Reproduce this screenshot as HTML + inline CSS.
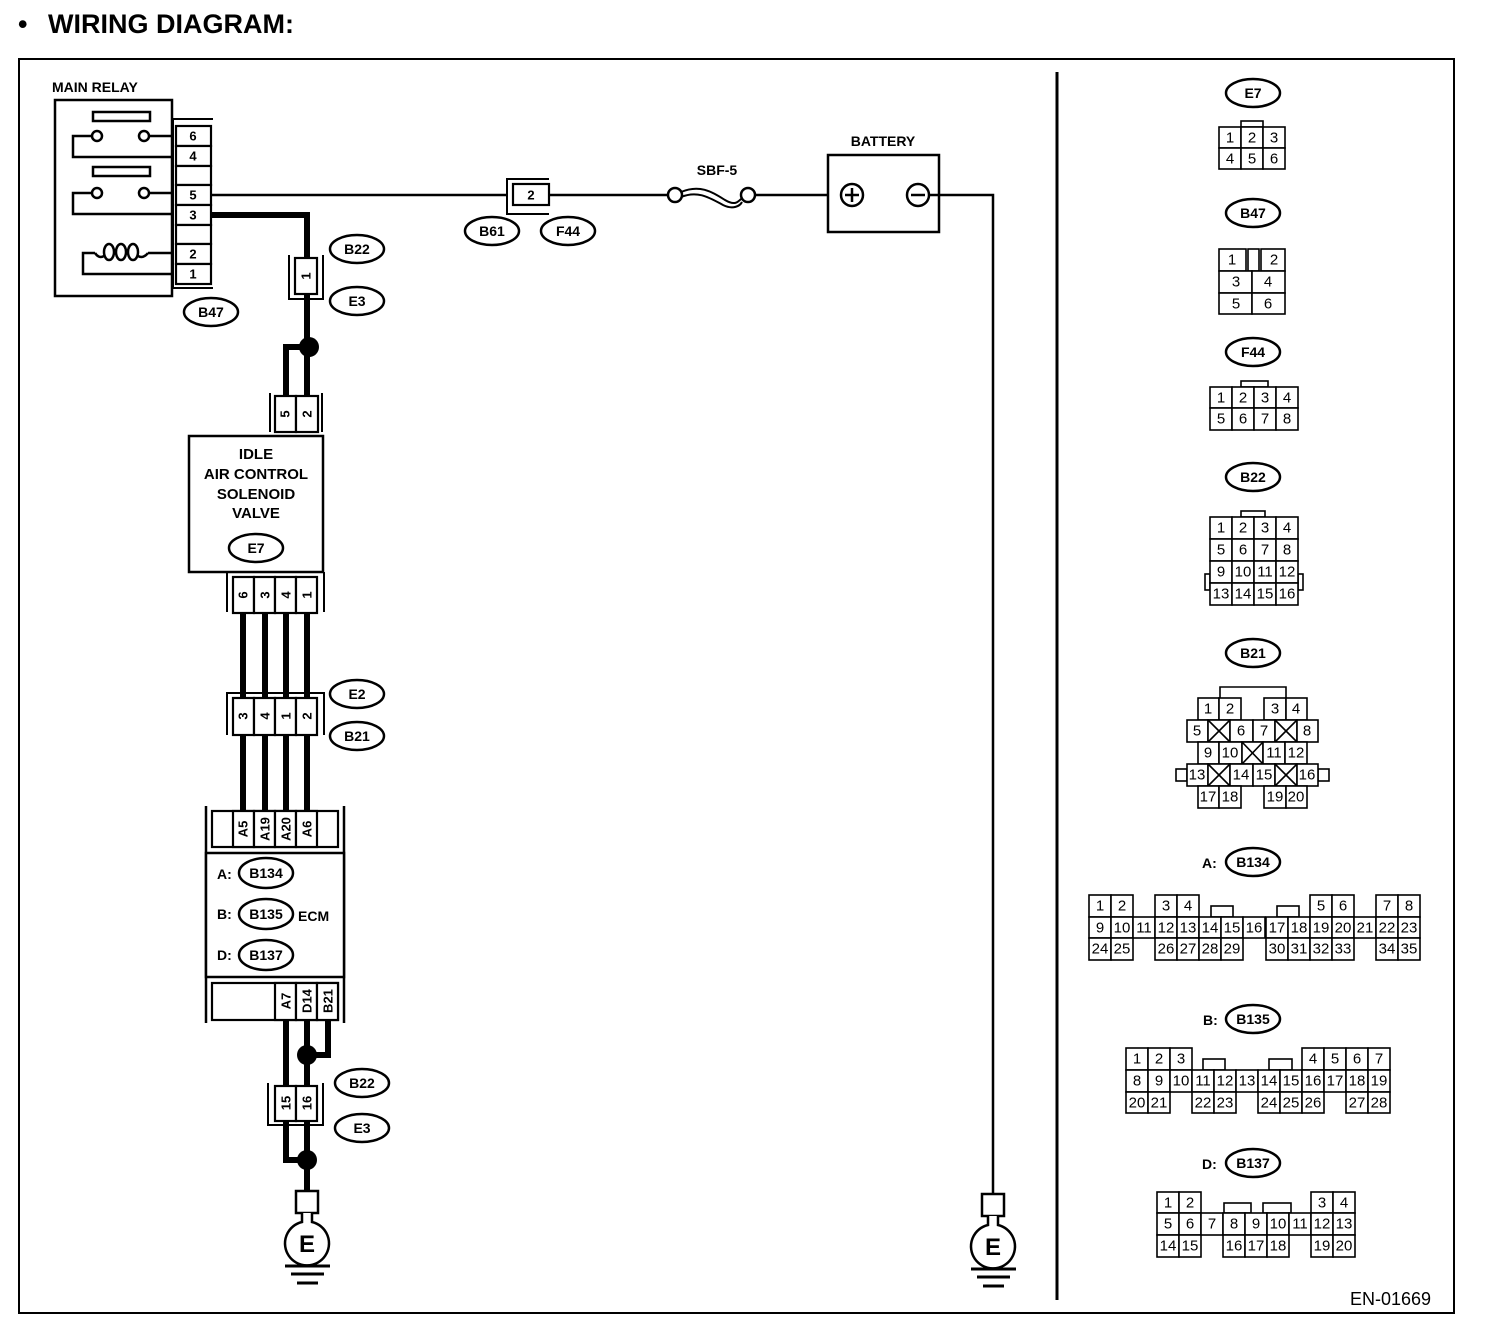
<!DOCTYPE html>
<html><head><meta charset="utf-8">
<style>
html,body{margin:0;padding:0;background:#fff;}
svg{display:block;}
.t{font-family:"Liberation Sans",sans-serif;}
.c rect{fill:#fff;stroke:#000;stroke-width:1.6;}
.c text{font-family:"Liberation Sans",sans-serif;font-size:15px;text-anchor:middle;dominant-baseline:central;}
.o ellipse{fill:#fff;stroke:#000;stroke-width:2.5;}
.o text{font-family:"Liberation Sans",sans-serif;font-weight:bold;font-size:14px;text-anchor:middle;dominant-baseline:central;}
.p rect{fill:#fff;stroke:#000;stroke-width:2.2;}
.p text{font-family:"Liberation Sans",sans-serif;font-weight:bold;font-size:13px;text-anchor:middle;dominant-baseline:central;}
.b{font-family:"Liberation Sans",sans-serif;font-weight:bold;}
</style></head><body>
<svg width="1504" height="1332" viewBox="0 0 1504 1332" xmlns="http://www.w3.org/2000/svg">
<text x="18" y="33" class="b" font-size="27">•</text>
<text x="48" y="33" class="b" font-size="27">WIRING DIAGRAM:</text>
<rect x="19" y="59" width="1435" height="1254" fill="none" stroke="#000" stroke-width="2"/>
<line x1="1057" y1="72" x2="1057" y2="1300" stroke="#000" stroke-width="3"/>

<!-- MAIN RELAY -->
<text x="52" y="92" class="b" font-size="14">MAIN RELAY</text>
<rect x="55" y="100" width="117" height="196" fill="none" stroke="#000" stroke-width="2.5"/>
<g fill="none" stroke="#000" stroke-width="2.5">
<rect x="93" y="112" width="57" height="9"/>
<rect x="93" y="167" width="57" height="9"/>
<polyline points="92,136 73,136 73,157 173,157"/>
<line x1="149" y1="136" x2="173" y2="136"/>
<polyline points="92,193 73,193 73,214 173,214"/>
<line x1="149" y1="193" x2="173" y2="193"/>
<polyline points="95,253 83,253 83,274 173,274"/>
<line x1="148" y1="253" x2="173" y2="253"/>
<path d="M95,253 Q99,259 104,256"/>
<ellipse cx="109" cy="252" rx="5" ry="8"/>
<ellipse cx="121" cy="252" rx="5" ry="8"/>
<ellipse cx="133" cy="252" rx="5" ry="8"/>
<path d="M138,256 Q143,259 148,253"/>
</g>
<circle cx="97" cy="136" r="5" fill="#fff" stroke="#000" stroke-width="2.5"/>
<circle cx="144" cy="136" r="5" fill="#fff" stroke="#000" stroke-width="2.5"/>
<circle cx="97" cy="193" r="5" fill="#fff" stroke="#000" stroke-width="2.5"/>
<circle cx="144" cy="193" r="5" fill="#fff" stroke="#000" stroke-width="2.5"/>
<g stroke="#000" stroke-width="2" fill="none">
<polyline points="213,119 173,119 173,288 213,288"/>
</g>
<g class="p">
<rect x="176" y="126" width="35" height="20"/><text x="193" y="136">6</text>
<rect x="176" y="146" width="35" height="20"/><text x="193" y="156">4</text>
<rect x="176" y="166" width="35" height="19"/>
<rect x="176" y="185" width="35" height="20"/><text x="193" y="195">5</text>
<rect x="176" y="205" width="35" height="20"/><text x="193" y="215">3</text>
<rect x="176" y="225" width="35" height="19"/>
<rect x="176" y="244" width="35" height="20"/><text x="193" y="254">2</text>
<rect x="176" y="264" width="35" height="20"/><text x="193" y="274">1</text>
</g>

<!-- wires top -->
<line x1="211" y1="195" x2="507" y2="195" stroke="#000" stroke-width="2.5"/>
<polyline points="211,215 307,215 307,258" fill="none" stroke="#000" stroke-width="6"/>
<line x1="307" y1="294" x2="307" y2="398" stroke="#000" stroke-width="6"/>
<polyline points="307,347 286,347 286,398" fill="none" stroke="#000" stroke-width="6"/>
<circle cx="309" cy="347" r="10" fill="#000"/>
<polyline points="289,255 289,299 323,299 323,255" fill="none" stroke="#000" stroke-width="2"/>
<g class="p"><rect x="295" y="258" width="22" height="36"/><text x="306" y="276" transform="rotate(-90 306 276)">1</text></g>
<g class="o">
<ellipse cx="357" cy="249" rx="27" ry="14"/><text x="357" y="249">B22</text>
<ellipse cx="357" cy="301" rx="27" ry="14"/><text x="357" y="301">E3</text>
<ellipse cx="211" cy="312" rx="27" ry="14"/><text x="211" y="312">B47</text>
</g>
<polyline points="270,393 270,432" fill="none" stroke="#000" stroke-width="2"/>
<polyline points="322,393 322,432" fill="none" stroke="#000" stroke-width="2"/>
<g class="p">
<rect x="275" y="396" width="21" height="36"/><text x="285" y="414" transform="rotate(-90 285 414)">5</text>
<rect x="296" y="396" width="22" height="36"/><text x="307" y="414" transform="rotate(-90 307 414)">2</text>
</g>
<!-- IACV -->
<rect x="189" y="436" width="134" height="136" fill="#fff" stroke="#000" stroke-width="2.5"/>
<g class="b" font-size="15" text-anchor="middle">
<text x="256" y="459">IDLE</text>
<text x="256" y="479">AIR CONTROL</text>
<text x="256" y="499">SOLENOID</text>
<text x="256" y="518">VALVE</text>
</g>
<g class="o"><ellipse cx="256" cy="548" rx="27" ry="14"/><text x="256" y="548">E7</text></g>
<line x1="227" y1="572" x2="227" y2="612" stroke="#000" stroke-width="2"/>
<line x1="324" y1="572" x2="324" y2="612" stroke="#000" stroke-width="2"/>
<g class="p">
<rect x="233" y="577" width="21" height="36"/><text x="243" y="595" transform="rotate(-90 243 595)">6</text>
<rect x="254" y="577" width="21" height="36"/><text x="265" y="595" transform="rotate(-90 265 595)">3</text>
<rect x="275" y="577" width="21" height="36"/><text x="286" y="595" transform="rotate(-90 286 595)">4</text>
<rect x="296" y="577" width="21" height="36"/><text x="307" y="595" transform="rotate(-90 307 595)">1</text>
</g>
<g stroke="#000" stroke-width="6">
<line x1="243" y1="613" x2="243" y2="698"/><line x1="265" y1="613" x2="265" y2="698"/>
<line x1="286" y1="613" x2="286" y2="698"/><line x1="307" y1="613" x2="307" y2="698"/>
<line x1="243" y1="735" x2="243" y2="812"/><line x1="265" y1="735" x2="265" y2="812"/>
<line x1="286" y1="735" x2="286" y2="812"/><line x1="307" y1="735" x2="307" y2="812"/>
</g>
<polyline points="227,735 227,693 324,693 324,735" fill="none" stroke="#000" stroke-width="2"/>
<g class="p">
<rect x="233" y="698" width="21" height="37"/><text x="243" y="716" transform="rotate(-90 243 716)">3</text>
<rect x="254" y="698" width="21" height="37"/><text x="265" y="716" transform="rotate(-90 265 716)">4</text>
<rect x="275" y="698" width="21" height="37"/><text x="286" y="716" transform="rotate(-90 286 716)">1</text>
<rect x="296" y="698" width="21" height="37"/><text x="307" y="716" transform="rotate(-90 307 716)">2</text>
</g>
<g class="o">
<ellipse cx="357" cy="694" rx="27" ry="14"/><text x="357" y="694">E2</text>
<ellipse cx="357" cy="736" rx="27" ry="14"/><text x="357" y="736">B21</text>
</g>
<!-- ECM -->
<line x1="206" y1="806" x2="206" y2="1023" stroke="#000" stroke-width="2.5"/>
<line x1="344" y1="806" x2="344" y2="1023" stroke="#000" stroke-width="2.5"/>
<rect x="206" y="853" width="138" height="124" fill="#fff" stroke="#000" stroke-width="2.5"/>
<g class="p">
<rect x="212" y="811" width="126" height="36"/>
<rect x="233" y="811" width="21" height="36"/><text x="243" y="829" transform="rotate(-90 243 829)">A5</text>
<rect x="254" y="811" width="21" height="36"/><text x="265" y="829" transform="rotate(-90 265 829)">A19</text>
<rect x="275" y="811" width="21" height="36"/><text x="286" y="829" transform="rotate(-90 286 829)">A20</text>
<rect x="296" y="811" width="21" height="36"/><text x="307" y="829" transform="rotate(-90 307 829)">A6</text>
<rect x="212" y="983" width="126" height="37"/>
<rect x="275" y="983" width="21" height="37"/><text x="286" y="1001" transform="rotate(-90 286 1001)">A7</text>
<rect x="296" y="983" width="21" height="37"/><text x="307" y="1001" transform="rotate(-90 307 1001)">D14</text>
<rect x="317" y="983" width="21" height="37"/><text x="328" y="1001" transform="rotate(-90 328 1001)">B21</text>
</g>
<g class="b" font-size="14">
<text x="217" y="879">A:</text><text x="217" y="919">B:</text><text x="217" y="960">D:</text>
<text x="298" y="921">ECM</text>
</g>
<g class="o">
<ellipse cx="266" cy="873" rx="27" ry="15"/><text x="266" y="873">B134</text>
<ellipse cx="266" cy="914" rx="27" ry="15"/><text x="266" y="914">B135</text>
<ellipse cx="266" cy="955" rx="27" ry="15"/><text x="266" y="955">B137</text>
</g>
<g stroke="#000" stroke-width="6" fill="none">
<line x1="286" y1="1020" x2="286" y2="1086"/>
<line x1="307" y1="1020" x2="307" y2="1086"/>
<polyline points="328,1020 328,1055 307,1055"/>
<polyline points="286,1120 286,1160 307,1160"/>
<line x1="307" y1="1120" x2="307" y2="1191"/>
</g>
<circle cx="307" cy="1055" r="10" fill="#000"/>
<circle cx="307" cy="1160" r="10" fill="#000"/>
<polyline points="268,1083 268,1125 323,1125 323,1083" fill="none" stroke="#000" stroke-width="2"/>
<g class="p">
<rect x="275" y="1086" width="21" height="35"/><text x="286" y="1103" transform="rotate(-90 286 1103)">15</text>
<rect x="296" y="1086" width="21" height="35"/><text x="307" y="1103" transform="rotate(-90 307 1103)">16</text>
</g>
<g class="o">
<ellipse cx="362" cy="1083" rx="27" ry="14"/><text x="362" y="1083">B22</text>
<ellipse cx="362" cy="1128" rx="27" ry="14"/><text x="362" y="1128">E3</text>
</g>
<rect x="296" y="1191" width="22" height="22" fill="#fff" stroke="#000" stroke-width="2.5"/>
<path d="M302,1213 L302,1222 A22,22 0 1 0 312,1222 L312,1213" fill="#fff" stroke="#000" stroke-width="2.5"/>
<text x="307" y="1252" class="b" font-size="24" text-anchor="middle">E</text>
<g stroke="#000" stroke-width="3">
<line x1="285" y1="1266" x2="330" y2="1266"/><line x1="291" y1="1274" x2="324" y2="1274"/><line x1="297" y1="1283" x2="318" y2="1283"/>
</g>

<polyline points="549,179 507,179 507,214 549,214" fill="none" stroke="#000" stroke-width="2"/>
<g class="p"><rect x="513" y="184" width="36" height="21"/><text x="531" y="195">2</text></g>
<line x1="549" y1="195" x2="668" y2="195" stroke="#000" stroke-width="2.5"/>
<path d="M681,192 C700,184 712,192 725,200 C735,206 738,202 742,198" fill="none" stroke="#000" stroke-width="2"/>
<path d="M681,197 C698,190 710,198 723,205 C733,210 740,206 742,202" fill="none" stroke="#000" stroke-width="2"/>
<circle cx="675" cy="195" r="7" fill="#fff" stroke="#000" stroke-width="2.5"/>
<circle cx="748" cy="195" r="7" fill="#fff" stroke="#000" stroke-width="2.5"/>
<line x1="755" y1="195" x2="840" y2="195" stroke="#000" stroke-width="2.5"/>
<text x="717" y="175" class="b" font-size="14" text-anchor="middle">SBF-5</text>
<g class="o">
<ellipse cx="492" cy="231" rx="27" ry="14"/><text x="492" y="231">B61</text>
<ellipse cx="568" cy="231" rx="27" ry="14"/><text x="568" y="231">F44</text>
</g>
<text x="883" y="146" class="b" font-size="14" text-anchor="middle">BATTERY</text>
<rect x="828" y="155" width="111" height="77" fill="#fff" stroke="#000" stroke-width="2.5"/>
<circle cx="852" cy="195" r="11" fill="#fff" stroke="#000" stroke-width="2.5"/>
<line x1="845" y1="195" x2="859" y2="195" stroke="#000" stroke-width="2.5"/><line x1="852" y1="188" x2="852" y2="202" stroke="#000" stroke-width="2.5"/>
<circle cx="918" cy="195" r="11" fill="#fff" stroke="#000" stroke-width="2.5"/>
<line x1="911" y1="195" x2="925" y2="195" stroke="#000" stroke-width="2.5"/>
<polyline points="929,195 993,195 993,1194" fill="none" stroke="#000" stroke-width="2.5"/>
<rect x="982" y="1194" width="22" height="22" fill="#fff" stroke="#000" stroke-width="2.5"/>
<path d="M988,1216 L988,1225 A22,22 0 1 0 998,1225 L998,1216" fill="#fff" stroke="#000" stroke-width="2.5"/>
<text x="993" y="1255" class="b" font-size="24" text-anchor="middle">E</text>
<g stroke="#000" stroke-width="3">
<line x1="971" y1="1269" x2="1016" y2="1269"/><line x1="977" y1="1277" x2="1010" y2="1277"/><line x1="983" y1="1286" x2="1004" y2="1286"/>
</g>
<text x="1350" y="1305" class="t" font-size="18">EN-01669</text>

<g class="o">
<ellipse cx="1253" cy="93" rx="27" ry="14"/><text x="1253" y="93">E7</text>
<ellipse cx="1253" cy="213" rx="27" ry="14"/><text x="1253" y="213">B47</text>
<ellipse cx="1253" cy="352" rx="27" ry="14"/><text x="1253" y="352">F44</text>
<ellipse cx="1253" cy="477" rx="27" ry="14"/><text x="1253" y="477">B22</text>
<ellipse cx="1253" cy="653" rx="27" ry="14"/><text x="1253" y="653">B21</text>
<ellipse cx="1253" cy="862" rx="27" ry="14"/><text x="1253" y="862">B134</text>
<ellipse cx="1253" cy="1019" rx="27" ry="14"/><text x="1253" y="1019">B135</text>
<ellipse cx="1253" cy="1163" rx="27" ry="14"/><text x="1253" y="1163">B137</text>
</g>
<g class="b" font-size="14"><text x="1202" y="868">A:</text><text x="1203" y="1025">B:</text><text x="1202" y="1169">D:</text></g>

<g class="c">
<rect x="1241" y="121" width="22" height="6"/>
<rect x="1219" y="127" width="22" height="21"/><text x="1230" y="138">1</text>
<rect x="1241" y="127" width="22" height="21"/><text x="1252" y="138">2</text>
<rect x="1263" y="127" width="22" height="21"/><text x="1274" y="138">3</text>
<rect x="1219" y="148" width="22" height="21"/><text x="1230" y="159">4</text>
<rect x="1241" y="148" width="22" height="21"/><text x="1252" y="159">5</text>
<rect x="1263" y="148" width="22" height="21"/><text x="1274" y="159">6</text>
<rect x="1219" y="249" width="27" height="22"/><text x="1232" y="260">1</text>
<rect x="1248" y="249" width="11" height="22"/>
<rect x="1261" y="249" width="24" height="22"/><text x="1274" y="260">2</text>
<rect x="1219" y="271" width="33" height="22"/><text x="1236" y="282">3</text>
<rect x="1252" y="271" width="33" height="22"/><text x="1268" y="282">4</text>
<rect x="1219" y="293" width="33" height="21"/><text x="1236" y="304">5</text>
<rect x="1252" y="293" width="33" height="21"/><text x="1268" y="304">6</text>
<rect x="1241" y="381" width="27" height="6"/>
<rect x="1210" y="387" width="22" height="21"/><text x="1221" y="398">1</text>
<rect x="1232" y="387" width="22" height="21"/><text x="1243" y="398">2</text>
<rect x="1254" y="387" width="22" height="21"/><text x="1265" y="398">3</text>
<rect x="1276" y="387" width="22" height="21"/><text x="1287" y="398">4</text>
<rect x="1210" y="408" width="22" height="22"/><text x="1221" y="419">5</text>
<rect x="1232" y="408" width="22" height="22"/><text x="1243" y="419">6</text>
<rect x="1254" y="408" width="22" height="22"/><text x="1265" y="419">7</text>
<rect x="1276" y="408" width="22" height="22"/><text x="1287" y="419">8</text>
<rect x="1241" y="511" width="24" height="6"/>
<rect x="1205" y="574" width="5" height="16"/><rect x="1298" y="574" width="5" height="16"/>
<rect x="1210" y="517" width="22" height="22"/><text x="1221" y="528">1</text>
<rect x="1232" y="517" width="22" height="22"/><text x="1243" y="528">2</text>
<rect x="1254" y="517" width="22" height="22"/><text x="1265" y="528">3</text>
<rect x="1276" y="517" width="22" height="22"/><text x="1287" y="528">4</text>
<rect x="1210" y="539" width="22" height="22"/><text x="1221" y="550">5</text>
<rect x="1232" y="539" width="22" height="22"/><text x="1243" y="550">6</text>
<rect x="1254" y="539" width="22" height="22"/><text x="1265" y="550">7</text>
<rect x="1276" y="539" width="22" height="22"/><text x="1287" y="550">8</text>
<rect x="1210" y="561" width="22" height="22"/><text x="1221" y="572">9</text>
<rect x="1232" y="561" width="22" height="22"/><text x="1243" y="572">10</text>
<rect x="1254" y="561" width="22" height="22"/><text x="1265" y="572">11</text>
<rect x="1276" y="561" width="22" height="22"/><text x="1287" y="572">12</text>
<rect x="1210" y="583" width="22" height="22"/><text x="1221" y="594">13</text>
<rect x="1232" y="583" width="22" height="22"/><text x="1243" y="594">14</text>
<rect x="1254" y="583" width="22" height="22"/><text x="1265" y="594">15</text>
<rect x="1276" y="583" width="22" height="22"/><text x="1287" y="594">16</text>
</g>
<polyline points="1220,698 1220,687 1286,687 1286,698" fill="none" stroke="#000" stroke-width="1.6"/>
<g class="c">
<rect x="1176" y="769" width="11" height="12"/><rect x="1318" y="769" width="11" height="12"/>
<rect x="1198" y="698" width="21" height="22"/><text x="1208" y="709">1</text>
<rect x="1219" y="698" width="22" height="22"/><text x="1230" y="709">2</text>
<rect x="1264" y="698" width="22" height="22"/><text x="1275" y="709">3</text>
<rect x="1286" y="698" width="21" height="22"/><text x="1296" y="709">4</text>
<rect x="1187" y="720" width="21" height="22"/><text x="1197" y="731">5</text>
<rect x="1208" y="720" width="22" height="22"/>
<rect x="1230" y="720" width="23" height="22"/><text x="1241" y="731">6</text>
<rect x="1253" y="720" width="22" height="22"/><text x="1264" y="731">7</text>
<rect x="1275" y="720" width="22" height="22"/>
<rect x="1297" y="720" width="21" height="22"/><text x="1307" y="731">8</text>
<rect x="1198" y="742" width="21" height="22"/><text x="1208" y="753">9</text>
<rect x="1219" y="742" width="23" height="22"/><text x="1230" y="753">10</text>
<rect x="1242" y="742" width="21" height="22"/>
<rect x="1263" y="742" width="22" height="22"/><text x="1274" y="753">11</text>
<rect x="1285" y="742" width="22" height="22"/><text x="1296" y="753">12</text>
<rect x="1187" y="764" width="21" height="22"/><text x="1197" y="775">13</text>
<rect x="1208" y="764" width="22" height="22"/>
<rect x="1230" y="764" width="23" height="22"/><text x="1241" y="775">14</text>
<rect x="1253" y="764" width="22" height="22"/><text x="1264" y="775">15</text>
<rect x="1275" y="764" width="22" height="22"/>
<rect x="1297" y="764" width="21" height="22"/><text x="1307" y="775">16</text>
<rect x="1198" y="786" width="21" height="22"/><text x="1208" y="797">17</text>
<rect x="1219" y="786" width="22" height="22"/><text x="1230" y="797">18</text>
<rect x="1264" y="786" width="22" height="22"/><text x="1275" y="797">19</text>
<rect x="1286" y="786" width="21" height="22"/><text x="1296" y="797">20</text>
</g>
<g stroke="#000" stroke-width="1.6">
<line x1="1208" y1="720" x2="1230" y2="742"/><line x1="1230" y1="720" x2="1208" y2="742"/>
<line x1="1275" y1="720" x2="1297" y2="742"/><line x1="1297" y1="720" x2="1275" y2="742"/>
<line x1="1242" y1="742" x2="1263" y2="764"/><line x1="1263" y1="742" x2="1242" y2="764"/>
<line x1="1208" y1="764" x2="1230" y2="786"/><line x1="1230" y1="764" x2="1208" y2="786"/>
<line x1="1275" y1="764" x2="1297" y2="786"/><line x1="1297" y1="764" x2="1275" y2="786"/>
</g>
<g class="c">
<rect x="1211" y="906" width="22" height="11"/><rect x="1277" y="906" width="22" height="11"/>
<rect x="1089" y="895" width="22" height="22"/><text x="1100" y="906">1</text>
<rect x="1111" y="895" width="22" height="22"/><text x="1122" y="906">2</text>
<rect x="1155" y="895" width="22" height="22"/><text x="1166" y="906">3</text>
<rect x="1177" y="895" width="22" height="22"/><text x="1188" y="906">4</text>
<rect x="1310" y="895" width="22" height="22"/><text x="1321" y="906">5</text>
<rect x="1332" y="895" width="22" height="22"/><text x="1343" y="906">6</text>
<rect x="1376" y="895" width="22" height="22"/><text x="1387" y="906">7</text>
<rect x="1398" y="895" width="22" height="22"/><text x="1409" y="906">8</text>
<rect x="1089" y="917" width="22" height="21"/><text x="1100" y="928">9</text>
<rect x="1111" y="917" width="22" height="21"/><text x="1122" y="928">10</text>
<rect x="1133" y="917" width="22" height="21"/><text x="1144" y="928">11</text>
<rect x="1155" y="917" width="22" height="21"/><text x="1166" y="928">12</text>
<rect x="1177" y="917" width="22" height="21"/><text x="1188" y="928">13</text>
<rect x="1199" y="917" width="22" height="21"/><text x="1210" y="928">14</text>
<rect x="1221" y="917" width="22" height="21"/><text x="1232" y="928">15</text>
<rect x="1243" y="917" width="22" height="21"/><text x="1254" y="928">16</text>
<rect x="1266" y="917" width="22" height="21"/><text x="1277" y="928">17</text>
<rect x="1288" y="917" width="22" height="21"/><text x="1299" y="928">18</text>
<rect x="1310" y="917" width="22" height="21"/><text x="1321" y="928">19</text>
<rect x="1332" y="917" width="22" height="21"/><text x="1343" y="928">20</text>
<rect x="1354" y="917" width="22" height="21"/><text x="1365" y="928">21</text>
<rect x="1376" y="917" width="22" height="21"/><text x="1387" y="928">22</text>
<rect x="1398" y="917" width="22" height="21"/><text x="1409" y="928">23</text>
<rect x="1089" y="938" width="22" height="22"/><text x="1100" y="949">24</text>
<rect x="1111" y="938" width="22" height="22"/><text x="1122" y="949">25</text>
<rect x="1155" y="938" width="22" height="22"/><text x="1166" y="949">26</text>
<rect x="1177" y="938" width="22" height="22"/><text x="1188" y="949">27</text>
<rect x="1199" y="938" width="22" height="22"/><text x="1210" y="949">28</text>
<rect x="1221" y="938" width="22" height="22"/><text x="1232" y="949">29</text>
<rect x="1266" y="938" width="22" height="22"/><text x="1277" y="949">30</text>
<rect x="1288" y="938" width="22" height="22"/><text x="1299" y="949">31</text>
<rect x="1310" y="938" width="22" height="22"/><text x="1321" y="949">32</text>
<rect x="1332" y="938" width="22" height="22"/><text x="1343" y="949">33</text>
<rect x="1376" y="938" width="22" height="22"/><text x="1387" y="949">34</text>
<rect x="1398" y="938" width="22" height="22"/><text x="1409" y="949">35</text>
</g>
<g class="c">
<rect x="1203" y="1059" width="22" height="11"/><rect x="1269" y="1059" width="23" height="11"/>
<rect x="1126" y="1048" width="22" height="22"/><text x="1137" y="1059">1</text>
<rect x="1148" y="1048" width="22" height="22"/><text x="1159" y="1059">2</text>
<rect x="1170" y="1048" width="22" height="22"/><text x="1181" y="1059">3</text>
<rect x="1302" y="1048" width="22" height="22"/><text x="1313" y="1059">4</text>
<rect x="1324" y="1048" width="22" height="22"/><text x="1335" y="1059">5</text>
<rect x="1346" y="1048" width="22" height="22"/><text x="1357" y="1059">6</text>
<rect x="1368" y="1048" width="22" height="22"/><text x="1379" y="1059">7</text>
<rect x="1126" y="1070" width="22" height="22"/><text x="1137" y="1081">8</text>
<rect x="1148" y="1070" width="22" height="22"/><text x="1159" y="1081">9</text>
<rect x="1170" y="1070" width="22" height="22"/><text x="1181" y="1081">10</text>
<rect x="1192" y="1070" width="22" height="22"/><text x="1203" y="1081">11</text>
<rect x="1214" y="1070" width="22" height="22"/><text x="1225" y="1081">12</text>
<rect x="1236" y="1070" width="22" height="22"/><text x="1247" y="1081">13</text>
<rect x="1258" y="1070" width="22" height="22"/><text x="1269" y="1081">14</text>
<rect x="1280" y="1070" width="22" height="22"/><text x="1291" y="1081">15</text>
<rect x="1302" y="1070" width="22" height="22"/><text x="1313" y="1081">16</text>
<rect x="1324" y="1070" width="22" height="22"/><text x="1335" y="1081">17</text>
<rect x="1346" y="1070" width="22" height="22"/><text x="1357" y="1081">18</text>
<rect x="1368" y="1070" width="22" height="22"/><text x="1379" y="1081">19</text>
<rect x="1126" y="1092" width="22" height="21"/><text x="1137" y="1103">20</text>
<rect x="1148" y="1092" width="22" height="21"/><text x="1159" y="1103">21</text>
<rect x="1192" y="1092" width="22" height="21"/><text x="1203" y="1103">22</text>
<rect x="1214" y="1092" width="22" height="21"/><text x="1225" y="1103">23</text>
<rect x="1258" y="1092" width="22" height="21"/><text x="1269" y="1103">24</text>
<rect x="1280" y="1092" width="22" height="21"/><text x="1291" y="1103">25</text>
<rect x="1302" y="1092" width="22" height="21"/><text x="1313" y="1103">26</text>
<rect x="1346" y="1092" width="22" height="21"/><text x="1357" y="1103">27</text>
<rect x="1368" y="1092" width="22" height="21"/><text x="1379" y="1103">28</text>
</g>
<g class="c">
<rect x="1224" y="1203" width="27" height="10"/><rect x="1263" y="1203" width="28" height="10"/>
<rect x="1157" y="1192" width="22" height="21"/><text x="1168" y="1203">1</text>
<rect x="1179" y="1192" width="22" height="21"/><text x="1190" y="1203">2</text>
<rect x="1311" y="1192" width="22" height="21"/><text x="1322" y="1203">3</text>
<rect x="1333" y="1192" width="22" height="21"/><text x="1344" y="1203">4</text>
<rect x="1157" y="1213" width="22" height="22"/><text x="1168" y="1224">5</text>
<rect x="1179" y="1213" width="22" height="22"/><text x="1190" y="1224">6</text>
<rect x="1201" y="1213" width="22" height="22"/><text x="1212" y="1224">7</text>
<rect x="1223" y="1213" width="22" height="22"/><text x="1234" y="1224">8</text>
<rect x="1245" y="1213" width="22" height="22"/><text x="1256" y="1224">9</text>
<rect x="1267" y="1213" width="22" height="22"/><text x="1278" y="1224">10</text>
<rect x="1289" y="1213" width="22" height="22"/><text x="1300" y="1224">11</text>
<rect x="1311" y="1213" width="22" height="22"/><text x="1322" y="1224">12</text>
<rect x="1333" y="1213" width="22" height="22"/><text x="1344" y="1224">13</text>
<rect x="1157" y="1235" width="22" height="22"/><text x="1168" y="1246">14</text>
<rect x="1179" y="1235" width="22" height="22"/><text x="1190" y="1246">15</text>
<rect x="1223" y="1235" width="22" height="22"/><text x="1234" y="1246">16</text>
<rect x="1245" y="1235" width="22" height="22"/><text x="1256" y="1246">17</text>
<rect x="1267" y="1235" width="22" height="22"/><text x="1278" y="1246">18</text>
<rect x="1311" y="1235" width="22" height="22"/><text x="1322" y="1246">19</text>
<rect x="1333" y="1235" width="22" height="22"/><text x="1344" y="1246">20</text>
</g>
</svg>
</body></html>
